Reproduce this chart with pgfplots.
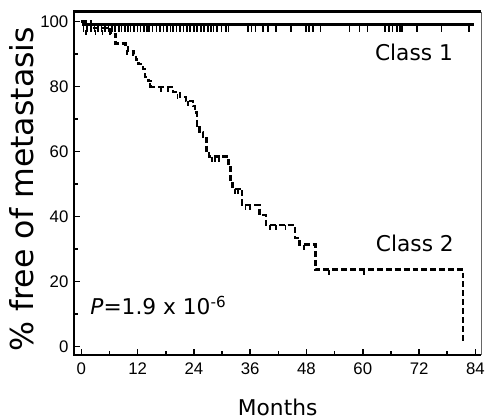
\documentclass[border=0pt]{standalone}
\usepackage{fontspec}
\setmainfont{DejaVu Sans}
\newfontfamily\arial{Liberation Sans}
\usepackage{pgfplots}
\pgfplotsset{compat=1.18}
\begin{document}
\begin{tikzpicture}
\begin{axis}[
  scale only axis,
  width=411.5bp, height=346.8bp,
  xmin=-1.6, xmax=85.3,
  ymin=-2.7, ymax=103,
  axis line style={draw=none},
  xtick={0,12,...,84},
  minor xtick={6,18,...,78},
  ytick={0,20,...,100},
  minor ytick={10,30,...,90},
  xtick pos=bottom, ytick pos=left,
  tick align=inside,
  major tick length=6bp, minor tick length=4bp,
  every tick/.style={black, line width=1.6bp},
  /pgf/number format/assume math mode=true,
  tick label style={font=\arial\fontsize{17}{17}\selectfont},
  xticklabel style={yshift=-4bp},
  yticklabel style={xshift=-2bp},
  xlabel={Months},
  xlabel style={font=\fontsize{22}{22}\selectfont, inner sep=0pt, at={(axis description cs:0.5,-0.175)}, anchor=base},
  ylabel={\% free of metastasis},
  ylabel style={font=\fontsize{32}{32}\selectfont, at={(axis description cs:-0.128,0.483)}, anchor=center},
  clip=false,
]
% Class 1
\addplot[black, line width=2.4bp, const plot] coordinates {
 (0,100) (0.4,99) (83.8,99)
};
\addplot[black, only marks, mark=|, mark size=3.5bp, mark options={line width=1.7bp}] coordinates {
 (0.5,97.9) (1.2,97.9) (2,97.9) (2.8,97.9) (3.5,97.9) (4.3,97.9) (5,97.9) (5.8,97.9)
 (6.5,97.9) (7.2,97.9) (8,97.9) (8.6,97.9) (9.3,97.9) (10,97.9) (10.5,97.9) (11.2,97.9)
 (12,97.9) (12.6,97.9) (13.3,97.9) (14,97.9) (14.5,97.9) (15.2,97.9) (16,97.9) (16.8,97.9)
 (17.5,97.9) (18.2,97.9) (19,97.9) (19.5,97.9) (20.3,97.9) (21,97.9) (21.8,97.9) (22.5,97.9)
 (23.2,97.9) (24,97.9) (24.7,97.9) (25.5,97.9) (26.2,97.9) (27,97.9)
 (27.6,97.9) (28.2,97.9) (28.9,97.9) (29.9,97.9) (30.8,97.9) (31.4,97.9) (35.6,97.9)
 (36.3,97.9) (37.1,97.9) (38.8,97.9) (39.8,97.9) (41.5,97.9) (44.7,97.9) (47.9,97.9)
 (48.5,97.9) (49.4,97.9) (51,97.9) (57.2,97.9) (59.3,97.9) (61,97.9) (64.8,97.9)
 (65.6,97.9) (66.3,97.9) (67.3,97.9) (68,97.9) (68.4,97.9) (71.6,97.9) (76.8,97.9) (82.7,97.9)
};
% Class 2
\addplot[black, line width=2.4bp, const plot, dash pattern=on 6bp off 3bp] coordinates {
 (0,100) (2,98) (6.2,96.2) (7.3,93.2) (9.4,92) (10,90.8) (11.1,89.8) (11.7,88.3)
 (12.2,86.8) (13.2,85.3) (13.6,82.8) (14.3,81.6) (14.9,79.8) (19.6,78.2) (21,76.7)
 (22.3,75.5) (23.8,74) (24.2,72) (24.6,68) (25.2,66) (25.9,64) (26.7,59.5) (27.2,58.4)
 (31.4,55.7) (31.8,50.8) (32.2,48.5) (34.3,43.5) (38,40.5) (39.4,37.3) (45.5,33.4)
 (46.5,31.3) (49.9,23.6) (81.4,1)
};
\addplot[black, only marks, mark=|, mark size=2.5bp, mark options={line width=1.7bp}] coordinates {
 (1,96.7) (3,96.7) (4.5,96.7) (9.8,90.5) (14.6,80.3) (17,79) (18.5,79) (20.5,76.9)
 (22.8,74.7) (27.8,57.6) (28.5,57.6) (29.3,57.6) (32.8,47.7) (33.4,47.7)
 (35,42.7) (36,42.7) (40.2,36.5) (41.5,36.5) (43.5,36.5) (47.5,30.5) (52.8,22.8) (60.2,22.8)
};
\node[font=\fontsize{22}{22}\selectfont] at (axis cs:70.9,90.5) {Class 1};
\node[font=\fontsize{22}{22}\selectfont] at (axis cs:71.1,31.6) {Class 2};
\node[font=\fontsize{22}{22}\selectfont, anchor=base west] at (axis cs:1.2,9.7) {\textit{P}=1.9 x 10\textsuperscript{-6}};
% frame
\draw[black, line width=2.6bp] (rel axis cs:1,1) -- (rel axis cs:0,1) -- (rel axis cs:0,0) -- (rel axis cs:1,0);
\draw[black!60, line width=1bp] (rel axis cs:1,0) -- (rel axis cs:1,1);
\path (rel axis cs:0,0) ++(-74.5bp,-64.5bp) coordinate (bbl);
\useasboundingbox (bbl) rectangle ++(488bp,423bp);
\end{axis}
\end{tikzpicture}
\end{document}
